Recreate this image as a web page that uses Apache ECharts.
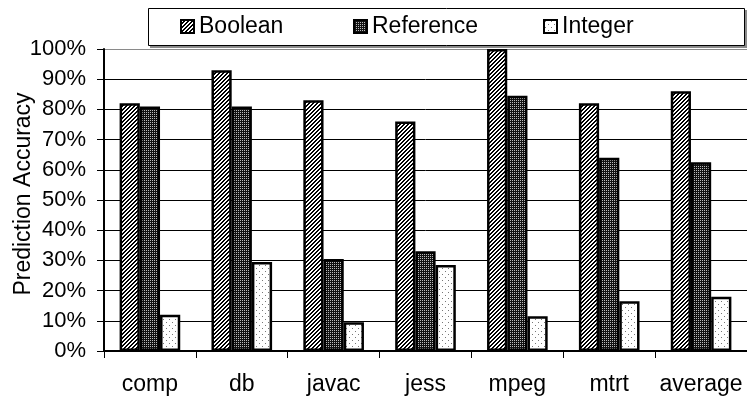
<!DOCTYPE html>
<html>
<head>
<meta charset="utf-8">
<script src="https://cdn.jsdelivr.net/npm/echarts@6/dist/echarts.min.js"></script>
<style>
html,body{margin:0;padding:0;background:#fff;}
#chart{width:747px;height:398px;}
</style>
</head>
<body>
<div id="chart"></div>
<script>
var categories = ['comp', 'db', 'javac', 'jess', 'mpeg', 'mtrt', 'average'];
var booleanValues = [82, 93, 83, 76, 100, 82, 86];
var referenceValues = [81, 81, 30.5, 33, 84.5, 64, 62.5];
var integerValues = [12, 29.5, 9.5, 28.5, 11.5, 16.5, 18];
var yTicks = [0, 10, 20, 30, 40, 50, 60, 70, 80, 90, 100];

function makeTile(w, h, draw) {
  var c = document.createElement('canvas');
  c.width = w; c.height = h;
  var ctx = c.getContext('2d');
  draw(ctx);
  return c;
}
var hatch = makeTile(4, 4, function (ctx) {
  ctx.fillStyle = '#fff'; ctx.fillRect(0, 0, 4, 4);
  ctx.fillStyle = '#000';
  for (var y = 0; y < 4; y++) {
    ctx.fillRect((3 - y + 4) % 4, y, 1, 1);
    ctx.fillRect((4 - y + 4) % 4, y, 1, 1);
  }
});
var darkDots = makeTile(2, 2, function (ctx) {
  ctx.fillStyle = '#111'; ctx.fillRect(0, 0, 2, 2);
  ctx.fillStyle = '#bbb'; ctx.fillRect(0, 0, 1, 1);
});
var lightDots = makeTile(6, 6, function (ctx) {
  ctx.fillStyle = '#fff'; ctx.fillRect(0, 0, 6, 6);
  ctx.fillStyle = '#777';
  ctx.fillRect(1, 1, 1, 1);
  ctx.fillRect(4, 4, 1, 1);
});

var FONT = 'Liberation Sans, Arial, sans-serif';
var chart = echarts.init(document.getElementById('chart'), null, {renderer: 'canvas'});

var gridColors = yTicks.map(function (v, i) { return i === yTicks.length - 1 ? '#8a8a8a' : '#000'; });

function legendFor(name, left) {
  return {
    data: [name], left: left, top: 15, padding: 0,
    itemWidth: 13, itemHeight: 13, icon: 'rect',
    textStyle: {fontFamily: FONT, fontSize: 23, color: '#000'},
    selectedMode: false
  };
}

function barSeries(name, data, pattern) {
  return {
    name: name, type: 'bar', data: data,
    barGap: '0%', barCategoryGap: '34%',
    itemStyle: {color: {image: pattern, repeat: 'repeat'}, borderColor: '#000', borderWidth: 2.5},
    emphasis: {disabled: true},
    animation: false
  };
}

chart.setOption({
  animation: false,
  backgroundColor: '#fff',
  graphic: [
    {type: 'rect', z: 1, shape: {x: 150, y: 10, width: 597, height: 38}, style: {fill: '#8a8a8a'}},
    {type: 'rect', z: 1, shape: {x: 148.5, y: 8.5, width: 596, height: 37}, style: {fill: '#fff', stroke: '#000', lineWidth: 1}},
    {type: 'text', z: 5, x: 24, y: 194, rotation: Math.PI / 2,
     style: {text: 'Prediction Accuracy', font: '23px ' + FONT, fill: '#000', align: 'center', verticalAlign: 'middle'}}
  ],
  legend: [legendFor('Boolean', 180), legendFor('Reference', 353), legendFor('Integer', 543)],
  grid: {left: 104, top: 49, width: 647, height: 302, containLabel: false},
  xAxis: {
    type: 'category', data: categories,
    axisLine: {lineStyle: {color: '#000', width: 2}},
    axisTick: {show: true, length: 7, lineStyle: {color: '#000', width: 1}},
    axisLabel: {fontFamily: FONT, fontSize: 23, color: '#000', margin: 22, interval: 0},
    splitLine: {show: false}
  },
  yAxis: {
    type: 'value', min: 0, max: 100, interval: 10,
    axisLine: {show: true, lineStyle: {color: '#000', width: 2}},
    axisTick: {show: true, length: 7, lineStyle: {color: '#000', width: 1}},
    axisLabel: {fontFamily: FONT, fontSize: 22, color: '#000', margin: 18, formatter: '{value}%'},
    splitLine: {show: true, lineStyle: {color: gridColors, width: 1}}
  },
  series: [
    barSeries('Boolean', booleanValues, hatch),
    barSeries('Reference', referenceValues, darkDots),
    barSeries('Integer', integerValues, lightDots)
  ]
});
</script>
</body>
</html>
